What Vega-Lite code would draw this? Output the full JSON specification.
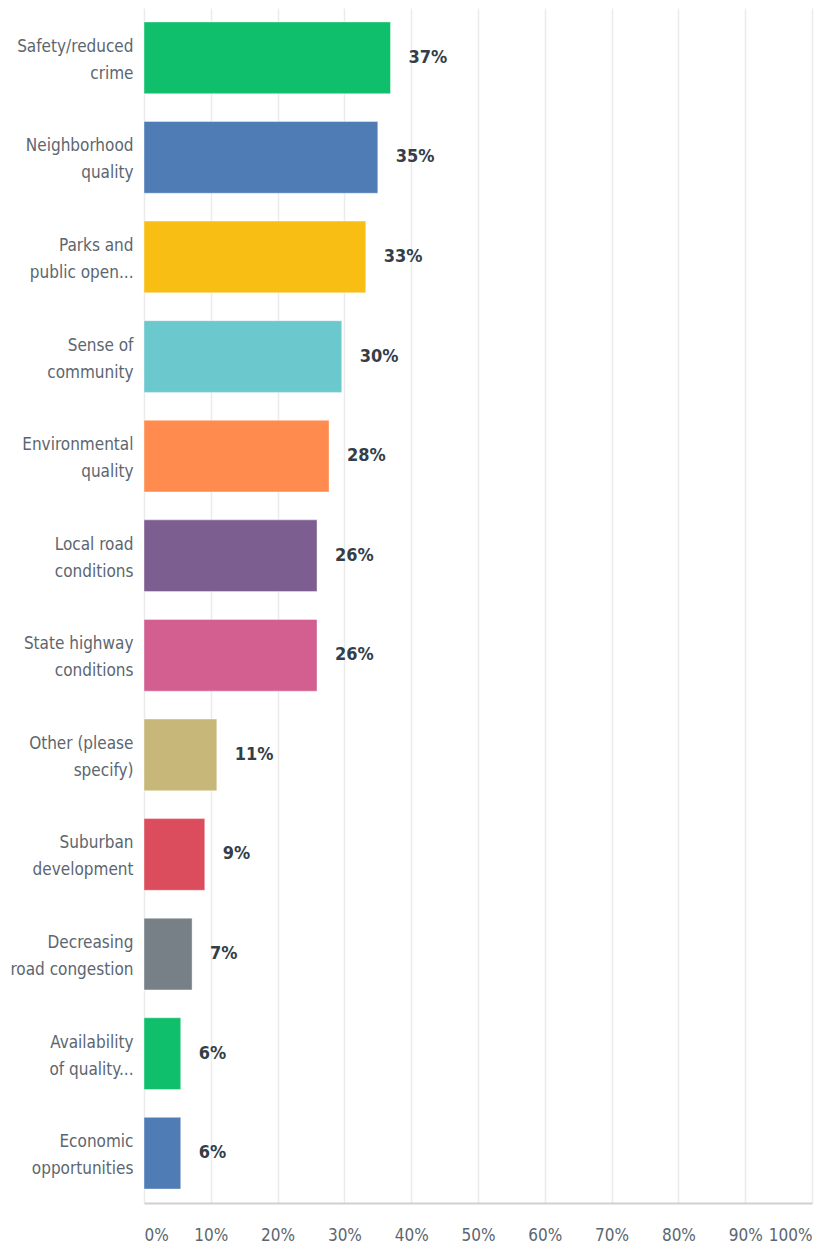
{
  "$schema": "https://vega.github.io/schema/vega-lite/v6.json",
  "width": 668,
  "height": 1195,
  "autosize": {"type": "none"},
  "padding": {"left": 144, "top": 8, "right": 3, "bottom": 47},
  "background": "white",
  "config": {
    "view": {"stroke": null},
    "font": "Liberation Sans Narrow, DejaVu Sans Condensed, sans-serif"
  },
  "data": {
    "values": [
      {"answer": "Safety/reduced|crime", "pct": 36.9, "label": "37%", "color": "#10BF6C"},
      {"answer": "Neighborhood|quality", "pct": 35.0, "label": "35%", "color": "#507CB6"},
      {"answer": "Parks and|public open...", "pct": 33.2, "label": "33%", "color": "#F9BE13"},
      {"answer": "Sense of|community", "pct": 29.6, "label": "30%", "color": "#6BC8CD"},
      {"answer": "Environmental|quality", "pct": 27.7, "label": "28%", "color": "#FF8B4F"},
      {"answer": "Local road|conditions", "pct": 25.9, "label": "26%", "color": "#7D5E90"},
      {"answer": "State highway|conditions", "pct": 25.9, "label": "26%", "color": "#D25F90"},
      {"answer": "Other (please|specify)", "pct": 10.9, "label": "11%", "color": "#C7B879"},
      {"answer": "Suburban|development", "pct": 9.1, "label": "9%", "color": "#DB4D5C"},
      {"answer": "Decreasing|road congestion", "pct": 7.2, "label": "7%", "color": "#768086"},
      {"answer": "Availability|of quality...", "pct": 5.5, "label": "6%", "color": "#10BF6C"},
      {"answer": "Economic|opportunities", "pct": 5.5, "label": "6%", "color": "#507CB6"}
    ]
  },
  "encoding": {
    "y": {
      "field": "answer",
      "type": "nominal",
      "sort": null,
      "scale": {"paddingInner": 0.28, "paddingOuter": 0.14},
      "axis": {
        "title": null,
        "domain": false,
        "ticks": false,
        "labelExpr": "split(datum.label, '|')",
        "labelFontSize": 17,
        "labelLineHeight": 27,
        "labelOffset": -11,
        "labelColor": "#5c6670",
        "labelPadding": 11,
        "labelLimit": 200
      }
    },
    "x": {
      "field": "pct",
      "type": "quantitative",
      "scale": {"domain": [0, 100], "nice": false},
      "axis": {
        "title": null,
        "values": [0, 10, 20, 30, 40, 50, 60, 70, 80, 90, 100],
        "labelExpr": "datum.value + '%'",
        "labelFlush": true,
        "labelFontSize": 17,
        "labelColor": "#5c6670",
        "labelPadding": 24,
        "ticks": false,
        "domainColor": "#d0d0d0",
        "domainWidth": 2,
        "gridColor": "#ebebeb",
        "gridWidth": 1.5
      }
    }
  },
  "layer": [
    {
      "mark": {"type": "bar", "stroke": "white", "strokeWidth": 1, "strokeOpacity": 0.4},
      "encoding": {
        "color": {"field": "color", "type": "nominal", "scale": null}
      }
    },
    {
      "mark": {"type": "text", "align": "left", "baseline": "middle", "dx": 18, "fontSize": 18, "fontWeight": "bold", "color": "#333e48"},
      "encoding": {
        "text": {"field": "label"}
      }
    }
  ]
}
